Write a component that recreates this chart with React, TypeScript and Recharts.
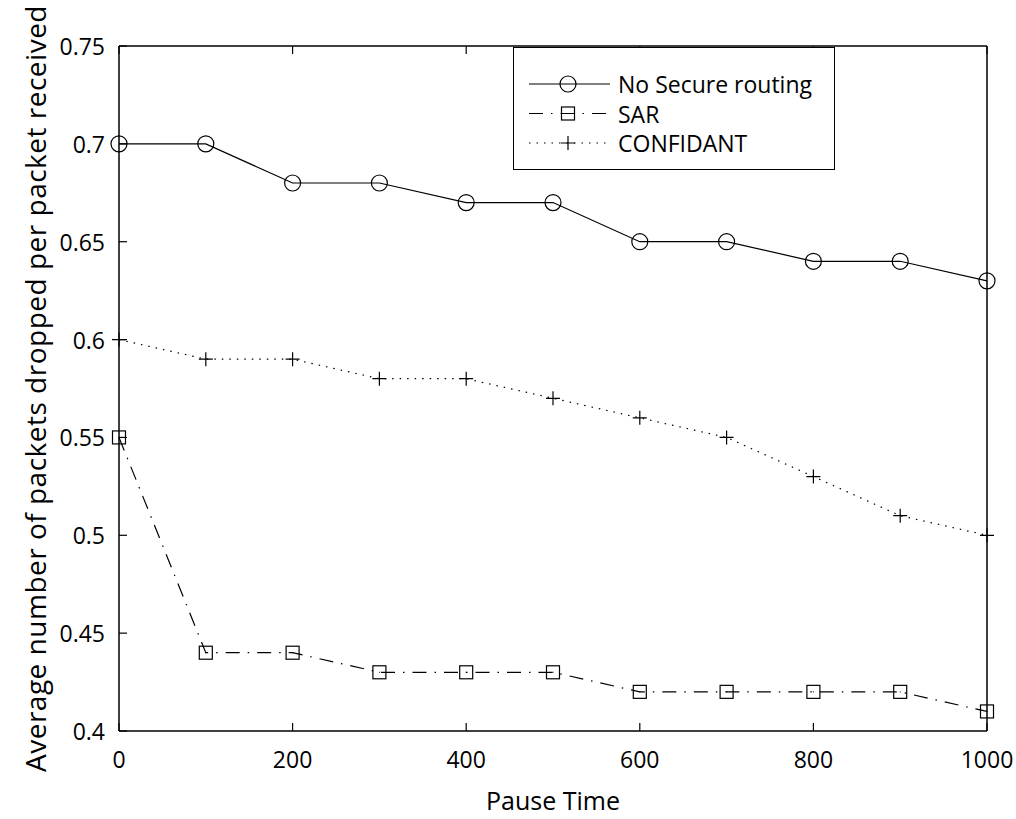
import { LineChart, Line, XAxis, YAxis } from 'recharts';

const pauseTimes = [0, 100, 200, 300, 400, 500, 600, 700, 800, 900, 1000];
const noSecureRouting = [0.7, 0.7, 0.68, 0.68, 0.67, 0.67, 0.65, 0.65, 0.64, 0.64, 0.63];
const sarValues = [0.55, 0.44, 0.44, 0.43, 0.43, 0.43, 0.42, 0.42, 0.42, 0.42, 0.41];
const confidantValues = [0.6, 0.59, 0.59, 0.58, 0.58, 0.57, 0.56, 0.55, 0.53, 0.51, 0.5];

const xTicks = [0, 200, 400, 600, 800, 1000];
const yTicks = [0.4, 0.45, 0.5, 0.55, 0.6, 0.65, 0.7, 0.75];

const seriesNames = ['No Secure routing', 'SAR', 'CONFIDANT'];

const data = pauseTimes.map((t, i) => ({
  t,
  noSecure: noSecureRouting[i],
  sar: sarValues[i],
  confidant: confidantValues[i],
}));

const FONT = '"Open Sans", sans-serif';
const INK = '#000';
const SAR_DASH = '14 8 1.5 8';
const DOT_DASH = '1.5 6';
const TICK_LEN = 8;

const CircleDot = (props: any) => (
  <circle key={props.key} cx={props.cx} cy={props.cy} r={8} fill="none" stroke={INK} strokeWidth={1.2} />
);

const SquareDot = (props: any) => (
  <g key={props.key}>
    <rect x={props.cx - 6.5} y={props.cy - 6.5} width={13} height={13} fill="none" stroke={INK} strokeWidth={1.2} />
    <rect x={props.cx - 0.5} y={props.cy - 0.5} width={1} height={1} fill={INK} />
  </g>
);

const PlusDot = (props: any) => (
  <path
    key={props.key}
    d={`M${props.cx - 7},${props.cy}H${props.cx + 7}M${props.cx},${props.cy - 7}V${props.cy + 7}`}
    stroke={INK}
    strokeWidth={1.2}
    fill="none"
  />
);

const fmtY = (v: number) => String(Number(v.toFixed(2)));

// inward ticks: tickSize/tickMargin are 0 so x/y sit on the axis line
const BottomTick = ({ x, y, payload }: any) => (
  <g>
    <line x1={x} x2={x} y1={y} y2={y - TICK_LEN} stroke={INK} strokeWidth={1.2} />
    <text x={x} y={y + 28} textAnchor="middle" fontFamily={FONT} fontSize={23} fill={INK} dominantBaseline="central">
      {payload.value}
    </text>
  </g>
);

const TopTick = ({ x, y }: any) => (
  <line x1={x} x2={x} y1={y} y2={y + TICK_LEN} stroke={INK} strokeWidth={1.2} />
);

const LeftTick = ({ x, y, payload }: any) => (
  <g>
    <line x1={x} x2={x + TICK_LEN} y1={y} y2={y} stroke={INK} strokeWidth={1.2} />
    <text x={x - 14} y={y} textAnchor="end" fontFamily={FONT} fontSize={23} fill={INK} dominantBaseline="central">
      {fmtY(payload.value)}
    </text>
  </g>
);

const RightTick = ({ x, y }: any) => (
  <line x1={x} x2={x - TICK_LEN} y1={y} y2={y} stroke={INK} strokeWidth={1.2} />
);

const LegendBox = () => {
  const rows = [
    { name: seriesNames[0], dash: undefined, marker: 'circle' },
    { name: seriesNames[1], dash: SAR_DASH, marker: 'square' },
    { name: seriesNames[2], dash: DOT_DASH, marker: 'plus' },
  ];
  return (
    <div
      style={{
        position: 'absolute',
        left: 513,
        top: 47,
        width: 322,
        height: 123,
        border: '1.5px solid #000',
        background: '#fff',
        boxSizing: 'border-box',
      }}
    >
      <svg width={320} height={120} style={{ display: 'block' }}>
        {rows.map((r, i) => {
          const y = 36 + i * 29.5;
          return (
            <g key={r.name}>
              <line x1={15} x2={96} y1={y} y2={y} stroke={INK} strokeWidth={1.2} strokeDasharray={r.dash} />
              {r.marker === 'circle' && <CircleDot cx={54} cy={y} />}
              {r.marker === 'square' && <SquareDot cx={54} cy={y} />}
              {r.marker === 'plus' && <PlusDot cx={54} cy={y} />}
              <text x={104} y={y} dominantBaseline="central" fontFamily={FONT} fontSize={23} fill={INK}>
                {r.name}
              </text>
            </g>
          );
        })}
      </svg>
    </div>
  );
};

const YTitle = (props: any) => {
  const cy = props.viewBox.y + props.viewBox.height / 2;
  return (
    <text
      x={35}
      y={cy}
      transform={`rotate(-90, 35, ${cy})`}
      textAnchor="middle"
      dominantBaseline="central"
      fontFamily={FONT}
      fontSize={28}
      letterSpacing={0.5}
      fill={INK}
    >
      Average number of packets dropped per packet received
    </text>
  );
};

const XTitle = (props: any) => (
  <text
    x={props.viewBox.x + props.viewBox.width / 2}
    y={800}
    textAnchor="middle"
    dominantBaseline="central"
    fontFamily={FONT}
    fontSize={25}
    fill={INK}
  >
    Pause Time
  </text>
);

export default function App() {
  const axisLine = { stroke: INK, strokeWidth: 1.5 };
  return (
    <div style={{ position: 'absolute', left: 0, top: 0, width: 1016, height: 819, background: '#fff' }}>
      <LineChart width={1016} height={819} data={data} margin={{ top: 45, right: 28, bottom: 38, left: 59 }}>
        <XAxis
          dataKey="t"
          type="number"
          domain={[0, 1000]}
          ticks={xTicks}
          axisLine={axisLine}
          tickLine={false}
          tickSize={0}
          tickMargin={0}
          height={50}
          tick={<BottomTick />}
          label={<XTitle />}
        />
        <XAxis
          xAxisId="top"
          orientation="top"
          dataKey="t"
          type="number"
          domain={[0, 1000]}
          ticks={xTicks}
          axisLine={axisLine}
          tickLine={false}
          tickSize={0}
          tickMargin={0}
          tick={<TopTick />}
          height={1}
        />
        <YAxis
          type="number"
          domain={[0.4, 0.75]}
          ticks={yTicks}
          axisLine={axisLine}
          tickLine={false}
          tickSize={0}
          tickMargin={0}
          width={60}
          tick={<LeftTick />}
          label={<YTitle />}
        />
        <YAxis
          yAxisId="right"
          orientation="right"
          type="number"
          domain={[0.4, 0.75]}
          ticks={yTicks}
          axisLine={axisLine}
          tickLine={false}
          tickSize={0}
          tickMargin={0}
          tick={<RightTick />}
          width={1}
        />
        <Line
          dataKey="noSecure"
          name={seriesNames[0]}
          stroke={INK}
          strokeWidth={1.2}
          dot={CircleDot}
          isAnimationActive={false}
        />
        <Line
          dataKey="sar"
          name={seriesNames[1]}
          stroke={INK}
          strokeWidth={1.2}
          strokeDasharray={SAR_DASH}
          dot={SquareDot}
          isAnimationActive={false}
        />
        <Line
          dataKey="confidant"
          name={seriesNames[2]}
          stroke={INK}
          strokeWidth={1.2}
          strokeDasharray={DOT_DASH}
          dot={PlusDot}
          isAnimationActive={false}
        />
      </LineChart>
      <LegendBox />
    </div>
  );
}
